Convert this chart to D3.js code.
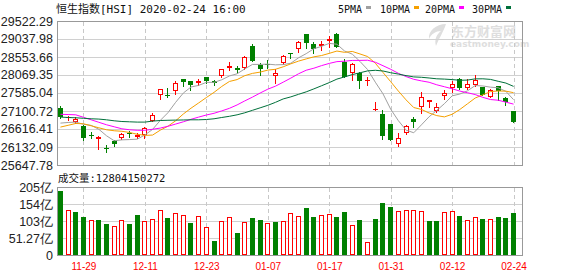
<!DOCTYPE html>
<html>
<head>
<meta charset="utf-8">
<script src="https://cdn.jsdelivr.net/npm/d3@7"></script>
<style>
  body { margin: 0; background: #fff; }
  svg { display: block; }
</style>
</head>
<body>
<svg id="chart" width="578" height="276"></svg>
<script>
// trading days shown on the chart
var dates = ["11-26","11-27","11-28","11-29","12-02","12-03","12-04","12-05","12-06","12-09",
  "12-10","12-11","12-12","12-13","12-16","12-17","12-18","12-19","12-20","12-23",
  "12-24","12-27","12-30","12-31","01-02","01-03","01-06","01-07","01-08","01-09",
  "01-10","01-13","01-14","01-15","01-16","01-17","01-20","01-21","01-22","01-23",
  "01-24","01-29","01-30","01-31","02-03","02-04","02-05","02-06","02-07","02-10",
  "02-11","02-12","02-13","02-14","02-17","02-18","02-19","02-20","02-21","02-24"];
var tickDates = ["11-29","12-11","12-23","01-07","01-17","01-31","02-12","02-24"];

var open = [27178,26904,26802,26703,26453,26354,26093,26281,26362,26502,26389,26453,26845,27527,27535,27651,27957,27903,27849,28011,
  27911,28054,28252,28268,28268,28851,28333,28368,28045,28386,28663,28778,29173,28905,28851,28993,29173,28429,28134,28134,
  27930,27133,27025,26757,26201,26507,26883,27205,27355,27114,27508,27723,27957,27715,27804,27742,27490,27777,27463,27106];
var close = [26926,26945,26891,26373,26434,26400,26077,26220,26488,26475,26461,26630,26980,27688,27517,27849,27884,27804,27903,27911,
  27857,28225,28314,28207,28564,28456,28233,28349,28118,28582,28644,28958,28923,28770,28905,29047,28832,28011,28359,27919,
  27946,27151,26434,26308,26362,26684,26792,27490,27401,27221,27597,27831,27731,27831,27938,27535,27670,27651,27355,26818];
var high = [27240,26971,26931,26716,26523,26434,26185,26308,26507,26569,26507,26668,27044,27696,27715,27911,27957,27903,27965,28027,
  27938,28241,28429,28322,28582,28905,28386,28475,28225,28609,28663,28993,29173,28966,28977,29119,29208,28494,28403,28161,
  28011,27355,27133,26757,26507,26730,26937,27624,27401,27312,27670,27919,27984,27957,28072,27758,27696,27777,27490,27106];
var low = [26910,26864,26783,26327,26381,26077,25986,26147,26346,26408,26362,26362,26837,27420,27490,27562,27777,27670,27796,27849,
  27804,28027,28207,28118,28241,28456,28072,28252,27865,28359,28521,28698,28797,28655,28744,28832,28832,28011,27938,27723,
  27796,27133,26346,26308,26147,26488,26668,27044,27221,27071,27428,27624,27696,27688,27777,27535,27474,27401,27267,26818];
// volume, in 亿
var volume = [193,135.7,129.7,114.6,104.6,105.6,93.5,86.5,104.6,93.5,120.6,101.6,107.7,135.7,111.6,125.8,119.7,96.5,116.7,84.4,
  42.2,101.6,113.7,66.4,98.6,111.6,105.6,95.6,99.5,101.6,125.8,117.6,141.8,114.6,120.6,122.7,114.6,129.7,89.6,105.6,
  38.3,108.6,155.9,143.9,131.8,134.8,134.8,131.8,102.5,102.5,128.8,131.8,117.6,104.6,113.7,108.6,107.7,114.6,111.6,128.04150272];

var ma5 = [26775,26792,26802,26743,26714,26609,26434,26300,26324,26332,26343,26456,26606,26848,27055,27334,27584,27747,27790,27871,
  27871,27941,28043,28102,28233,28354,28354,28362,28343,28349,28386,28531,28644,28776,28840,28921,28897,28714,28631,28435,
  28215,27876,27562,27151,26840,26587,26515,26727,26945,27116,27299,27508,27557,27643,27785,27774,27742,27726,27629,27406];
var ma10 = [26668,26716,26765,26757,26703,26649,26596,26569,26555,26523,26475,26445,26453,26585,26692,26837,27020,27176,27318,27463,
  27602,27761,27895,27946,28051,28113,28147,28201,28223,28290,28370,28443,28502,28558,28593,28652,28714,28679,28703,28636,
  28566,28386,28137,27890,27637,27401,27194,27143,27047,26977,26942,27012,27141,27294,27449,27535,27624,27640,27635,27594];
var ma20 = [27012,27006,26998,26931,26864,26797,26730,26676,26622,26596,26582,26582,26609,26641,26690,26749,26810,26877,26937,26993,
  27039,27103,27173,27264,27372,27474,27584,27688,27769,27876,27986,28102,28198,28252,28322,28381,28429,28440,28462,28462,
  28467,28413,28319,28223,28115,28027,27954,27911,27874,27806,27753,27699,27637,27592,27543,27468,27409,27390,27339,27286];
var ma30 = [26937,26926,26918,26904,26891,26883,26864,26837,26818,26810,26802,26802,26829,26845,26851,26856,26859,26864,26864,26872,
  26891,26926,26958,26998,27052,27119,27186,27253,27334,27425,27481,27549,27616,27696,27780,27865,27959,28018,28080,28129,
  28180,28196,28177,28131,28094,28053,28018,28008,27989,27967,27959,27946,27927,27933,27965,27967,27951,27900,27852,27763];

var priceTicks = [25647.78,26132.09,26616.41,27100.72,27585.04,28069.35,28553.66,29037.98,29522.29];
var volTicks = [0,51.27,102.54,153.81,205.08];
var volLabels = ["0","51.27亿","103亿","154亿","205亿"];

var maNames = ["5PMA","10PMA","20PMA","30PMA"];
var maColors = ["#a0a0a0","#f5a000","#ff00ff","#00703a"];

var UP = "#ff0000", DOWN = "#008000";
var left = 57, right = 523;
var kTop = 21, kBot = 165, vTop = 187, vBot = 255;
var monoFont = "'DejaVu Sans Mono','Noto Sans CJK SC',monospace";
var axisFont = "'Liberation Sans',Arial,sans-serif";

var svg = d3.select("#chart");
var px = v => Math.round(v) + 0.5;

var x = d3.scaleBand().domain(d3.range(dates.length)).range([56.6, 517.4]);
var cx = i => x(i) + x.bandwidth() / 2;
var y = d3.scaleLinear().domain([priceTicks[0], priceTicks[8]]).range([kBot, kTop]);
var yv = d3.scaleLinear().domain([0, volTicks[4]]).range([vBot, vTop]);

// ---- header ----
svg.append("text")
  .attr("x", 56).attr("y", 13)
  .style("font", "11px " + monoFont).attr("fill", "#111")
  .text("恒生指数[HSI] 2020-02-24 16:00");

var lg = svg.append("g").style("font", "10px " + monoFont);
var lx = [338, 380, 425, 472];
maNames.forEach(function (n, k) {
  var t = lg.append("text").attr("x", lx[k]).attr("y", 12.5).attr("fill", "#111").text(n);
  var w = t.node().getComputedTextLength();
  lg.append("rect").attr("x", Math.round(lx[k] + w + 4)).attr("y", 6).attr("width", 5).attr("height", 3)
    .attr("fill", maColors[k]);
});

// ---- watermark ----
var wm = svg.append("g").attr("fill", "#dedede");
wm.append("path")
  .attr("d", "M446,24 C436,24 428,31 429,39 C431,34 436,31 441,31 C437,34 434,39 436,46 C439,38 443,33 446,24 Z");
wm.append("text").attr("x", 451).attr("y", 36)
  .style("font", "bold 13px 'Noto Sans CJK SC'").text("东方财富网");
wm.append("text").attr("x", 450).attr("y", 47)
  .style("font", "bold 9px 'DejaVu Sans',sans-serif").text("eastmoney.com");

// ---- grids ----
function panelGrid(top, bot, ticks, scale) {
  var g = svg.append("g").attr("shape-rendering", "crispEdges");
  g.selectAll(".h").data(ticks.slice(1, -1)).join("line")
    .attr("x1", left).attr("x2", right)
    .attr("y1", d => px(scale(d))).attr("y2", d => px(scale(d)))
    .attr("stroke", "#d0d0d0");
  g.selectAll(".v").data(tickDates).join("line")
    .attr("x1", d => px(cx(dates.indexOf(d)))).attr("x2", d => px(cx(dates.indexOf(d))))
    .attr("y1", top + 1).attr("y2", bot)
    .attr("stroke", "#c8c8c8").attr("stroke-dasharray", "4,3");
  g.append("rect")
    .attr("x", left + 0.5).attr("y", top + 0.5)
    .attr("width", right - left - 1).attr("height", bot - top)
    .attr("fill", "none").attr("stroke", "#999");
}
panelGrid(kTop, kBot, priceTicks, y);
panelGrid(vTop, vBot, volTicks, yv);

// ---- y labels ----
svg.append("g").style("font", "12.5px " + axisFont).attr("fill", "#222").attr("text-anchor", "end")
  .selectAll("text").data(priceTicks).join("text")
  .attr("x", 53).attr("y", d => y(d)).attr("dy", "0.36em")
  .text(d => d.toFixed(2));

svg.append("g").style("font", "12.5px " + axisFont).attr("fill", "#222").attr("text-anchor", "end")
  .selectAll("text").data(volTicks).join("text")
  .attr("x", 53).attr("y", d => yv(d)).attr("dy", "0.36em")
  .text((d, i) => volLabels[i]);

svg.append("text").attr("x", 58).attr("y", 182)
  .style("font", "10.5px " + monoFont).attr("fill", "#111")
  .text("成交量:" + Math.round(volume[volume.length - 1] * 1e8));

// ---- x labels ----
svg.append("g").style("font", "10px " + axisFont).attr("fill", UP).attr("text-anchor", "middle")
  .selectAll("text").data(tickDates).join("text")
  .attr("x", d => cx(dates.indexOf(d)) + 0.5).attr("y", 269.5)
  .text(d => d);

// ---- candles ----
var candles = svg.append("g").attr("shape-rendering", "crispEdges")
  .selectAll("g").data(d3.range(dates.length)).join("g");

candles.append("line")
  .attr("x1", i => px(cx(i) - 0.5)).attr("x2", i => px(cx(i) - 0.5))
  .attr("y1", i => Math.round(y(high[i]))).attr("y2", i => Math.round(y(low[i])) + 1)
  .attr("stroke", i => close[i] >= open[i] ? UP : DOWN);

candles.append("rect")
  .each(function (i) {
    var up = close[i] >= open[i];
    var t = Math.round(y(Math.max(open[i], close[i])));
    var b = Math.round(y(Math.min(open[i], close[i])));
    var h = Math.max(b - t, 1);
    var x0 = Math.round(cx(i) - 2.5);
    var r = d3.select(this);
    if (up && h > 2) {
      r.attr("x", x0 + 0.5).attr("y", t + 0.5).attr("width", 4).attr("height", h - 1)
        .attr("fill", "#fff").attr("stroke", UP);
    } else {
      r.attr("x", x0).attr("y", t).attr("width", 5).attr("height", Math.max(h, 1))
        .attr("fill", up ? UP : DOWN);
    }
  });

// ---- moving averages ----
[ma5, ma10, ma20, ma30].forEach(function (s, k) {
  svg.append("path")
    .datum(s)
    .attr("fill", "none").attr("stroke", maColors[k]).attr("stroke-width", 1)
    .attr("d", d3.line().x((d, i) => cx(i)).y(d => y(d)));
});

// ---- volume ----
svg.append("g").attr("shape-rendering", "crispEdges")
  .selectAll("rect").data(d3.range(volume.length)).join("rect")
  .each(function (i) {
    var up = i === 0 ? close[i] >= open[i] : close[i] >= close[i - 1];
    var t = Math.round(yv(volume[i]));
    var x0 = Math.round(cx(i) - 2.5);
    var r = d3.select(this);
    if (up) {
      r.attr("x", x0 + 0.5).attr("y", t + 0.5).attr("width", 4).attr("height", vBot - t - 1)
        .attr("fill", "#fff").attr("stroke", UP);
    } else {
      r.attr("x", x0).attr("y", t).attr("width", 5).attr("height", vBot - t)
        .attr("fill", DOWN);
    }
  });
</script>
</body>
</html>
